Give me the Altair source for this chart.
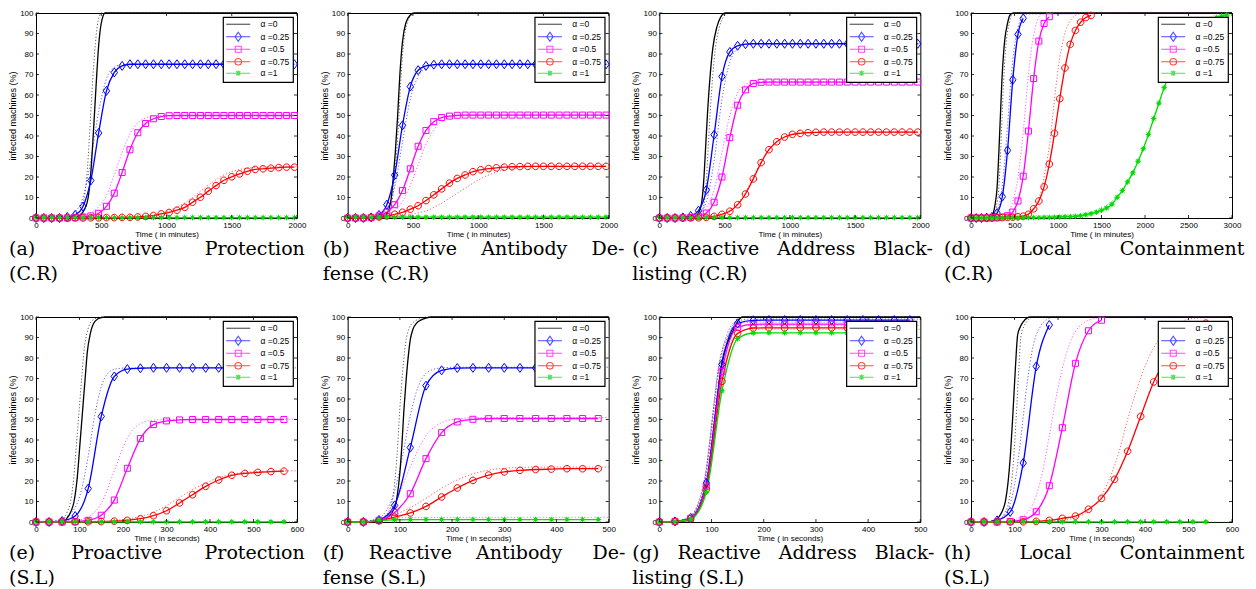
import altair as alt
import pandas as pd

# ---------------- legend / series definitions ----------------
LABELS = ["α =0", "α =0.25", "α =0.5", "α =0.75", "α =1"]
COLORS = ["#000000", "#0000ff", "#ff00ff", "#ff0000", "#00dd00"]

DIAMOND = "M0,-4.5L3.2,0L0,4.5L-3.2,0Z"
SQUARE = "M-3,-3L3,-3L3,3L-3,3Z"
CIRCLE = "M-3.3,0A3.3,3.3 0 1 0 3.3,0A3.3,3.3 0 1 0 -3.3,0Z"
STAR = "M-2.8,0L2.8,0M0,-2.8L0,2.8M-2,-2L2,2M-2,2L2,-2M-1.4,0A1.4,1.4 0 1 0 1.4,0A1.4,1.4 0 1 0 -1.4,0Z"
MARKERS = [DIAMOND, SQUARE, CIRCLE, STAR]
LEG_LINE = "M-12,0L12,0"
LEG_PATHS = [LEG_LINE, LEG_LINE + DIAMOND, LEG_LINE + SQUARE, LEG_LINE + CIRCLE, LEG_LINE + STAR]

Y_TICKS = [0, 10, 20, 30, 40, 50, 60, 70, 80, 90, 100]
X_CR = [0, 500, 1000, 1500, 2000]
X_CR3 = [0, 500, 1000, 1500, 2000, 2500, 3000]
X_SL6 = [0, 100, 200, 300, 400, 500, 600]
X_SL5 = [0, 100, 200, 300, 400, 500]

# sampling grids of the simulation markers
CR_T = list(range(0, 2000, 60))
CR3_T = list(range(0, 3000, 60))
SL6_T = list(range(0, 600, 30))
SL5_T = list(range(0, 500, 30))
SLH_T = list(range(0, 570, 30))

# ---------------- (a) Proactive Protection (C.R) ----------------
A_K_T = [0, 240, 300, 340, 370, 400, 420, 440, 460, 480, 500, 530, 2000]
A_K = [0, 0, 0.3, 1.5, 4, 10, 22, 42, 64, 84, 95, 100, 100]
A_B = [0, 0, 0, 0, 0.5, 1.5, 5.6, 18.3, 41.5, 62.0,
       71.0, 74.2, 75, 75, 75, 75, 75, 75, 75, 75,
       75, 75, 75, 75, 75, 75, 75, 75, 75, 75,
       75, 75, 75, 75]
A_M = [0, 0, 0, 0, 0, 0.2, 0.5, 1.0, 2.3, 5.7,
       12.1, 22.2, 33.3, 41.6, 46.1, 48.4, 49.5, 49.9, 50, 50,
       50, 50, 50, 50, 50, 50, 50, 50, 50, 50,
       50, 50, 50, 50]
A_R = [0, 0, 0, 0, 0, 0, 0, 0.1, 0.1, 0.2,
       0.2, 0.3, 0.3, 0.5, 0.8, 1.2, 2.0, 2.7, 3.8, 5.2,
       7.7, 10.1, 13.1, 15.8, 18.4, 20.1, 21.5, 22.8, 23.7, 24.0,
       24.3, 24.6, 24.8, 24.8]
A_G = [0.2, 0.2, 0.2, 0.2, 0.2, 0.2, 0.2, 0.2, 0.2, 0.2,
       0.2, 0.2, 0.2, 0.2, 0.2, 0.2, 0.2, 0.2, 0.2, 0.2,
       0.2, 0.2, 0.2, 0.2, 0.2, 0.2, 0.2, 0.2, 0.2, 0.2,
       0.2, 0.2, 0.2, 0.2]
A_DK_T = [0, 220, 280, 320, 350, 375, 395, 415, 435, 455, 475, 500, 2000]
A_DK = [0, 0, 0.5, 2, 5, 12, 25, 46, 68, 85, 96, 100, 100]
A_DB_T = [0, 180, 240, 300, 360, 420, 480, 540, 600, 660, 720, 2000]
A_DB = [0, 0.2, 0.8, 3, 10, 28, 52, 68, 73.5, 74.8, 75, 75]
A_DM_T = [0, 300, 360, 420, 480, 540, 600, 660, 720, 780, 840, 900, 960, 2000]
A_DM = [0, 0.5, 1.2, 2.5, 5.5, 11, 21, 32, 41, 46.5, 48.8, 49.7, 50, 50]
A_DR_T = [0, 720, 780, 840, 900, 960, 1020, 1080, 1140, 1200, 1260, 1320, 1380, 1440, 1500, 1560, 1620, 1680, 1740, 2000]
A_DR = [0, 0.3, 0.5, 0.9, 1.5, 2.4, 3.6, 5.2, 7.3, 10.0, 13.0, 16.0, 18.7, 21.0, 22.6, 23.7, 24.3, 24.7, 24.9, 25]
A_DG_T = [0, 2000]
A_DG = [0.2, 0.2]

# ---------------- (b) Reactive Antibody Defense (C.R) ----------------
B_K_T = [0, 240, 280, 300, 330, 350, 365, 383, 400, 420, 445, 480, 510, 2000]
B_K = [0, 0, 0.5, 2, 8, 20, 32, 50, 70, 86, 95, 99, 100, 100]
B_B = [0, 0, 0, 0.3, 1.5, 6.5, 20.9, 45.2, 64.1, 72.1,
       74.2, 74.8, 75, 75, 75, 75, 75, 75, 75, 75,
       75, 75, 75, 75, 75, 75, 75, 75, 75, 75,
       75, 75, 75, 75]
B_M = [0, 0, 0, 0.2, 1.0, 2.8, 6.5, 13.4, 24.0, 35.0,
       42.7, 47.0, 49.0, 49.7, 50.1, 50.2, 50.2, 50.2, 50.2, 50.2,
       50.2, 50.2, 50.2, 50.2, 50.2, 50.2, 50.2, 50.2, 50.2, 50.2,
       50.2, 50.2, 50.2, 50.2]
B_R = [0, 0, 0, 0.2, 0.5, 1.0, 1.8, 2.8, 4.3, 6.0,
       8.5, 11.3, 14.2, 17.0, 19.3, 21.0, 22.6, 23.5, 24.1, 24.5,
       24.8, 25.0, 25.1, 25.2, 25.2, 25.2, 25.2, 25.2, 25.2, 25.2,
       25.2, 25.2, 25.2, 25.2]
B_G = [0.4, 0.4, 0.4, 0.4, 0.4, 0.4, 0.4, 0.4, 0.4, 0.4,
       0.4, 0.4, 0.4, 0.4, 0.4, 0.4, 0.4, 0.4, 0.4, 0.4,
       0.4, 0.4, 0.4, 0.4, 0.4, 0.4, 0.4, 0.4, 0.4, 0.4,
       0.4, 0.4, 0.4, 0.4]
B_DK_T = [0, 250, 290, 310, 340, 360, 375, 393, 410, 430, 455, 490, 520, 2000]
B_DK = [0, 0, 0.5, 2, 8, 20, 32, 50, 70, 86, 95, 99, 100, 100]
B_DB_T = [0, 180, 240, 300, 360, 420, 480, 540, 600, 660, 720, 780, 2000]
B_DB = [0, 0.2, 1.0, 4.5, 15, 37, 58, 69, 73, 74.5, 75, 75, 75]
B_DM_T = [0, 240, 300, 360, 420, 480, 540, 600, 660, 720, 780, 840, 900, 960, 2000]
B_DM = [0, 0.5, 1.5, 3.5, 8, 16, 26, 36, 43, 47, 49, 49.8, 50.1, 50.2, 50.2]
B_DR_T = [0, 300, 400, 500, 600, 700, 800, 900, 1000, 1100, 1200, 1300, 1400, 1500, 2000]
B_DR = [0, 0.3, 1.0, 2.0, 3.5, 6.5, 10.5, 14.5, 18.5, 21.5, 23.5, 24.6, 25.0, 25.2, 25.2]
B_DG_T = [0, 2000]
B_DG = [0.5, 0.5]

# ---------------- (c) Reactive Address Blacklisting (C.R) ----------------
C_K_T = [0, 250, 290, 320, 340, 355, 370, 390, 410, 440, 470, 506, 2000]
C_K = [0, 0, 1.5, 6, 18, 35, 52, 70, 83, 93, 98, 100, 100]
C_B = [0, 0, 0, 0.3, 1.0, 3.6, 13.7, 40.6, 69.0, 81.0,
       84.0, 84.8, 85, 85, 85, 85, 85, 85, 85, 85,
       85, 85, 85, 85, 85, 85, 85, 85, 85, 85,
       85, 85, 85, 85]
C_M = [0, 0, 0, 0.1, 0.3, 0.8, 2.4, 7.7, 20.0, 39.2,
       55.0, 62.5, 65.6, 66.2, 66.3, 66.3, 66.3, 66.3, 66.3, 66.3,
       66.3, 66.3, 66.3, 66.3, 66.3, 66.3, 66.3, 66.3, 66.3, 66.3,
       66.3, 66.3, 66.3, 66.3]
C_R = [0, 0, 0, 0, 0, 0.1, 0.3, 0.8, 1.8, 3.3,
       6.5, 11.7, 19.1, 27.0, 33.3, 37.2, 39.5, 40.8, 41.3, 41.6,
       41.8, 41.9, 41.9, 41.9, 41.9, 41.9, 41.9, 41.9, 41.9, 41.9,
       41.9, 41.9, 41.9, 41.9]
C_G = [0.2, 0.2, 0.2, 0.2, 0.2, 0.2, 0.2, 0.2, 0.2, 0.2,
       0.2, 0.2, 0.2, 0.2, 0.2, 0.2, 0.2, 0.2, 0.2, 0.2,
       0.2, 0.2, 0.2, 0.2, 0.2, 0.2, 0.2, 0.2, 0.2, 0.2,
       0.2, 0.2, 0.2, 0.2]
C_DK_T = [0, 270, 310, 340, 360, 375, 390, 410, 430, 460, 490, 526, 2000]
C_DK = [0, 0, 1.5, 6, 18, 35, 52, 70, 83, 93, 98, 100, 100]
C_DB_T = [0, 240, 300, 360, 420, 480, 540, 600, 660, 720, 2000]
C_DB = [0, 0.5, 2, 8, 28, 58, 76, 82.5, 84.5, 85, 85]
C_DM_T = [0, 300, 360, 420, 480, 540, 600, 660, 720, 780, 2000]
C_DM = [0, 1.5, 5, 14, 32, 50, 61, 65, 66.2, 66.5, 66.5]
C_DR_T = [0, 480, 540, 600, 660, 720, 780, 840, 900, 960, 1020, 1100, 1200, 2000]
C_DR = [0, 2, 3.8, 7.2, 12.5, 20, 27.5, 33.5, 37.3, 39.6, 40.9, 41.5, 41.8, 41.9]
C_DG_T = [0, 2000]
C_DG = [0.2, 0.2]

# ---------------- (d) Local Containment (C.R) ----------------
D_K_T = [0, 200, 240, 273, 300, 320, 338, 355, 372, 388, 420, 446, 484, 3000]
D_K = [0, 0, 1, 5.7, 15, 32, 50, 67, 79, 87, 95, 98.9, 100, 100]
D_B = [0, 0, 0, 0.2, 0.5, 2.4, 10.4, 33.0, 67.4, 89.6, 97.4]
D_M = [0, 0, 0, 0, 0.1, 0.2, 0.5, 1.1, 2.9, 8.3, 20.4, 42.4, 68.0, 86.3, 94.9, 98.2]
D_R = [0, 0, 0, 0, 0, 0.1, 0.2, 0.3, 0.4, 0.6, 0.9, 1.8, 4.5, 8.3, 15.2, 26.3,
       41.3, 58.2, 73.2, 84.7, 91.5, 95.5, 97.8, 98.8]
D_G = [0, 0, 0, 0, 0, 0, 0.1, 0.1, 0.1, 0.1,
       0.1, 0.2, 0.2, 0.2, 0.3, 0.3, 0.4, 0.5, 0.6, 0.7,
       0.8, 1.1, 1.6, 2.1, 2.8, 3.8, 4.9, 6.7, 10.1, 13.4,
       17.6, 22.0, 27.7, 33.8, 40.8, 48.5, 56.0, 63.6, 69.8, 75.5,
       80.5, 85.0, 88.5, 91.5, 93.7, 95.5, 96.8, 97.8, 98.5, 99.0]
D_DK_T = [0, 220, 260, 293, 320, 340, 358, 375, 392, 408, 440, 466, 504, 3000]
D_DK = [0, 0, 1, 5.7, 15, 32, 50, 67, 79, 87, 95, 98.9, 100, 100]
D_DB_T = [0, 220, 280, 340, 380, 420, 460, 500, 540, 580, 620, 3000]
D_DB = [0, 0.3, 2, 10, 24, 45, 68, 84, 93, 97.5, 99.5, 100]
D_DM_T = [0, 360, 420, 480, 540, 570, 600, 630, 660, 690, 720, 760, 810, 3000]
D_DM = [0, 0.5, 2.5, 8, 20, 30, 42, 56, 70, 81, 89, 96, 99.5, 100]
D_DR_T = [0, 620, 680, 740, 800, 860, 900, 930, 960, 990, 1020, 1050, 1090, 1130, 1190, 1270, 3000]
D_DR = [0, 1, 2.5, 5.5, 12, 25, 35, 46, 58, 69, 78, 85, 91.5, 95.5, 98.5, 99.8, 100]
D_DG_T = [0, 900, 1200, 1400, 1600, 1700, 1800, 1900, 2000, 2100, 2200, 2300, 2400, 2500, 2600, 2700, 2800, 2900, 3000]
D_DG = [0.3, 0.5, 1.3, 3.2, 7.5, 11.5, 18, 26, 36, 49, 61, 71, 80, 87, 92, 95.5, 97.8, 99, 99.5]

# ---------------- (e) Proactive Protection (S.L) ----------------
E_K_T = [0, 60, 70, 80, 87.5, 95, 101, 107, 113, 118, 125, 136, 150, 159, 600]
E_K = [0, 0, 1.5, 5, 10, 22, 38, 54, 70, 83, 92, 98, 99.7, 100, 100]
E_B = [0, 0, 0.5, 2.9, 16.3, 51.5, 71.0, 74.6, 75.0, 75.2,
       75.2, 75.2, 75.2, 75.2, 75.2, 75.2, 75.2, 75.2, 75.2, 75.2]
E_M = [0, 0, 0, 0.2, 0.8, 3.3, 10.7, 26.2, 40.7, 47.5,
       49.3, 49.8, 50, 50, 50, 50, 50, 50, 50, 50]
E_R = [0, 0, 0, 0, 0.1, 0.2, 0.4, 0.8, 1.6, 3.1,
       5.5, 9.3, 13.3, 17.4, 20.5, 22.8, 23.7, 24.2, 24.6, 24.8]
E_G = [0.1, 0.1, 0.1, 0.1, 0.1, 0.1, 0.1, 0.1, 0.1, 0.1,
       0.1, 0.1, 0.1, 0.1, 0.1, 0.1, 0.1, 0.1, 0.1, 0.1]
E_DK_T = [0, 52, 62, 72, 79.5, 87, 93, 99, 105, 110, 117, 128, 142, 151, 600]
E_DK = [0, 0, 1.5, 5, 10, 22, 38, 54, 70, 83, 92, 98, 99.7, 100, 100]
E_DB_T = [0, 30, 60, 90, 105, 120, 135, 150, 165, 180, 195, 210, 240, 600]
E_DB = [0, 0.2, 1.5, 7, 16, 32, 52, 66, 72.5, 74.5, 75, 75.2, 75.2, 75.2]
E_DM_T = [0, 90, 120, 150, 180, 210, 240, 270, 300, 330, 600]
E_DM = [0.3, 0.8, 2.5, 9, 25, 41, 48, 49.7, 50, 50.1, 50.1]
E_DR_T = [0, 150, 180, 210, 240, 270, 300, 330, 360, 390, 420, 450, 480, 510, 540, 600]
E_DR = [0, 0.3, 0.7, 1.4, 2.7, 4.8, 8, 12, 15.8, 19, 21.6, 23.3, 24.2, 24.6, 24.8, 25]
E_DG_T = [0, 600]
E_DG = [0.1, 0.1]

# ---------------- (f) Reactive Antibody Defense (S.L) ----------------
F_K_T = [0, 60, 75, 90, 95, 100, 104, 107.6, 111, 115, 120, 125, 132, 140, 150, 160, 500]
F_K = [0, 0.3, 2, 7, 13, 24, 38, 54, 66, 78, 89, 94, 97, 98.5, 99.5, 100, 100]
F_B = [0, 0, 1.0, 8.1, 36.3, 66.5, 74.0, 75.1, 75.2, 75.2,
       75.2, 75.2, 75.2, 75.2, 75.2, 75.2, 75.2]
F_M = [0, 0, 0.8, 4.6, 13.8, 30.9, 43.6, 48.8, 50.1, 50.4,
       50.5, 50.5, 50.5, 50.5, 50.5, 50.5, 50.5]
F_R = [0, 0, 0.6, 2.4, 4.4, 7.6, 12.2, 16.6, 20.3, 22.9,
       24.4, 25.2, 25.6, 25.8, 26.0, 26.0, 26.0]
F_G = [0, 0, 0.8, 1.1, 1.2, 1.2, 1.2, 1.2, 1.2, 1.2,
       1.2, 1.2, 1.2, 1.2, 1.2, 1.2, 1.2]
F_DK_T = [0, 52, 67, 82, 87, 92, 96, 99.6, 103, 107, 112, 117, 124, 132, 142, 152, 500]
F_DK = [0, 0.3, 2, 7, 13, 24, 38, 54, 66, 78, 89, 94, 97, 98.5, 99.5, 100, 100]
F_DB_T = [0, 30, 60, 75, 90, 105, 120, 135, 150, 165, 180, 210, 500]
F_DB = [0, 0.3, 2, 6, 15, 32, 52, 66, 72.5, 74.5, 75.2, 75.5, 75.5]
F_DM_T = [0, 60, 90, 120, 150, 180, 210, 240, 270, 500]
F_DM = [0, 1.5, 9, 27, 42, 48.5, 50.3, 50.8, 51, 51]
F_DR_T = [0, 60, 90, 120, 150, 180, 210, 240, 270, 300, 330, 360, 500]
F_DR = [0, 1, 3.5, 7, 11.5, 16.5, 20.5, 23.5, 25.3, 26.2, 26.6, 26.8, 26.8]
F_DG_T = [0, 60, 90, 120, 500]
F_DG = [0, 1, 1.8, 2.2, 2.3]

# ---------------- (g) Reactive Address Blacklisting (S.L) ----------------
G_K_T = [0, 50, 60, 75, 90, 100, 110, 120, 130, 141, 150, 160, 500]
G_K = [0, 0.5, 1.5, 6, 17, 36, 58, 78, 87, 93, 97.9, 100, 100]
G_B = [0, 0.3, 2.0, 19.0, 76.9, 96.9, 98.4, 98.5, 98.5, 98.5,
       98.5, 98.5, 98.5, 98.5, 98.5, 98.5, 98.5]
G_M = [0, 0.3, 1.8, 17.5, 73.5, 95.0, 96.4, 96.5, 96.5, 96.5,
       96.5, 96.5, 96.5, 96.5, 96.5, 96.5, 96.5]
G_R = [0, 0.3, 1.6, 15.9, 68.6, 92.0, 94.6, 94.7, 94.7, 94.7,
       94.7, 94.7, 94.7, 94.7, 94.7, 94.7, 94.7]
G_G = [0, 0.2, 1.4, 14.5, 64.0, 89.4, 92.2, 92.3, 92.3, 92.3,
       92.3, 92.3, 92.3, 92.3, 92.3, 92.3, 92.3]
G_DK_T = [0, 45, 55, 70, 85, 95, 105, 115, 125, 136, 145, 155, 500]
G_DK = [0, 0.5, 1.5, 6, 17, 36, 58, 78, 87, 93, 97.9, 100, 100]
G_D_T = [0, 25, 55, 85, 115, 145, 175, 500]
G_DB = [0, 0.3, 2.0, 19.0, 77.0, 97.5, 99.0, 99.0]
G_DM = [0, 0.3, 1.8, 17.5, 74.0, 96.0, 97.5, 97.5]
G_DR = [0, 0.3, 1.6, 16.0, 69.5, 93.5, 96.0, 96.0]
G_DG = [0, 0.2, 1.4, 14.8, 65.0, 91.0, 94.0, 94.0]

# ---------------- (h) Local Containment (S.L) ----------------
H_K_T = [0, 40, 50, 60, 70, 79, 85, 91, 96.6, 102, 107.3, 114, 121, 136, 600]
H_K = [0, 0, 0.5, 1.5, 4.5, 10.1, 19, 34, 54, 75, 91.4, 95.5, 97.9, 100, 100]
H_B = [0, 0, 0.8, 4.9, 28.8, 75.9, 96.1]
H_M = [0, 0, 0, 0.3, 1.1, 5.0, 17.7, 46.0, 77.4, 93.3, 98.4]
H_R = [0, 0, 0, 0, 0.1, 0.3, 0.8, 1.8, 2.9, 6.2,
       11.5, 20.8, 34.5, 51.5, 68.3, 80.0, 89.0, 94.0, 97.0]
H_G = [0.1, 0.1, 0.1, 0.1, 0.1, 0.1, 0.1, 0.1, 0.1, 0.1,
       0.1, 0.1, 0.1, 0.1, 0.1, 0.1, 0.1, 0.1, 0.1]
H_DK_T = [0, 48, 58, 68, 78, 87, 93, 99, 104.6, 110, 115.3, 122, 129, 144, 600]
H_DK = [0, 0, 0.5, 1.5, 4.5, 10.1, 19, 34, 54, 75, 91.4, 95.5, 97.9, 100, 100]
H_DB_T = [0, 50, 70, 85, 100, 114, 128, 144, 160, 175, 190, 600]
H_DB = [0, 0.3, 2, 6, 18, 40, 66, 87, 95.5, 98.8, 99.8, 100]
H_DM_T = [0, 75, 105, 135, 150, 165, 180, 195, 210, 225, 240, 255, 285, 315, 600]
H_DM = [0, 0.3, 1.5, 6, 13, 25, 42, 60, 75, 86, 93, 96.5, 99.3, 100, 100]
H_DR_T = [0, 200, 230, 260, 280, 300, 320, 340, 360, 380, 400, 420, 450, 480, 520, 600]
H_DR = [0, 0.5, 1.5, 4, 7.5, 13, 22, 34, 50, 64, 76, 85, 93.5, 97.5, 99.5, 100]
H_DG_T = [0, 600]
H_DG = [0, 0]

NB = "\u00a0"
CAPTIONS = [
    ["(a)" + NB * 6 + "Proactive" + NB * 7 + "Protection", "(C.R)"],
    ["(b)" + NB * 4 + "Reactive" + NB * 4 + "Antibody" + NB * 4 + "De-", "fense (C.R)"],
    ["(c)" + NB * 3 + "Reactive" + NB * 3 + "Address" + NB * 3 + "Black-", "listing (C.R)"],
    ["(d)" + NB * 8 + "Local" + NB * 8 + "Containment", "(C.R)"],
    ["(e)" + NB * 6 + "Proactive" + NB * 7 + "Protection", "(S.L)"],
    ["(f)" + NB * 4 + "Reactive" + NB * 4 + "Antibody" + NB * 5 + "De-", "fense (S.L)"],
    ["(g)" + NB * 3 + "Reactive" + NB * 3 + "Address" + NB * 3 + "Black-", "listing (S.L)"],
    ["(h)" + NB * 8 + "Local" + NB * 8 + "Containment", "(S.L)"],
]
CAP_DX = [-27, -25, -27, -27, -27, -25, -27, -27]
MIN_T = "Time ( in minutes)"
SEC_T = "Time ( in seconds)"

PANELS = [
    dict(xmax=2000, xt=X_CR, xtitle=MIN_T, grid=CR_T, black=(A_K_T, A_K), solid=[A_B, A_M, A_R, A_G],
         dotted=[(A_DK_T, A_DK), (A_DB_T, A_DB), (A_DM_T, A_DM), (A_DR_T, A_DR), (A_DG_T, A_DG)]),
    dict(xmax=2000, xt=X_CR, xtitle=MIN_T, grid=CR_T, black=(B_K_T, B_K), solid=[B_B, B_M, B_R, B_G],
         dotted=[(B_DK_T, B_DK), (B_DB_T, B_DB), (B_DM_T, B_DM), (B_DR_T, B_DR), (B_DG_T, B_DG)]),
    dict(xmax=2000, xt=X_CR, xtitle=MIN_T, grid=CR_T, black=(C_K_T, C_K), solid=[C_B, C_M, C_R, C_G],
         dotted=[(C_DK_T, C_DK), (C_DB_T, C_DB), (C_DM_T, C_DM), (C_DR_T, C_DR), (C_DG_T, C_DG)]),
    dict(xmax=3000, xt=X_CR3, xtitle=MIN_T, grid=CR3_T, black=(D_K_T, D_K), solid=[D_B, D_M, D_R, D_G],
         dotted=[(D_DK_T, D_DK), (D_DB_T, D_DB), (D_DM_T, D_DM), (D_DR_T, D_DR), (D_DG_T, D_DG)]),
    dict(xmax=600, xt=X_SL6, xtitle=SEC_T, grid=SL6_T, black=(E_K_T, E_K), solid=[E_B, E_M, E_R, E_G],
         dotted=[(E_DK_T, E_DK), (E_DB_T, E_DB), (E_DM_T, E_DM), (E_DR_T, E_DR), (E_DG_T, E_DG)]),
    dict(xmax=500, xt=X_SL5, xtitle=SEC_T, grid=SL5_T, black=(F_K_T, F_K), solid=[F_B, F_M, F_R, F_G],
         dotted=[(F_DK_T, F_DK), (F_DB_T, F_DB), (F_DM_T, F_DM), (F_DR_T, F_DR), (F_DG_T, F_DG)]),
    dict(xmax=500, xt=X_SL5, xtitle=SEC_T, grid=SL5_T, black=(G_K_T, G_K), solid=[G_B, G_M, G_R, G_G],
         dotted=[(G_DK_T, G_DK), (G_D_T, G_DB), (G_D_T, G_DM), (G_D_T, G_DR), (G_D_T, G_DG)]),
    dict(xmax=600, xt=X_SL6, xtitle=SEC_T, grid=SLH_T, black=(H_K_T, H_K), solid=[H_B, H_M, H_R, H_G],
         dotted=[(H_DK_T, H_DK), (H_DB_T, H_DB), (H_DM_T, H_DM), (H_DR_T, H_DR), (H_DG_T, H_DG)]),
]

PW, PH = 261, 205
SANS = "Liberation Sans"


def make_panel(p, caption, dx):
    xs = alt.Scale(domain=[0, p["xmax"]], nice=False, zero=False)
    ys = alt.Scale(domain=[0, 100], nice=False, zero=False)
    xax = alt.Axis(values=p["xt"], title=p["xtitle"], ticks=False, domain=False, grid=False,
                   labelFont=SANS, labelFontSize=8, labelColor="black", labelPadding=3,
                   labelFlush=False, labelOverlap=False, format="d",
                   titleFont=SANS, titleFontSize=8, titleFontWeight="normal", titleColor="black",
                   titlePadding=1)
    yax = alt.Axis(values=Y_TICKS, title="infected machines (%)", ticks=False, domain=False, grid=False,
                   labelFont=SANS, labelFontSize=8, labelColor="black", labelPadding=3,
                   labelFlush=False, labelOverlap=False, format="d",
                   titleFont=SANS, titleFontSize=9, titleFontWeight="normal", titleColor="black",
                   titlePadding=2)

    def X(f):
        return alt.X(f"{f}:Q", scale=xs, axis=xax)

    def Y(f):
        return alt.Y(f"{f}:Q", scale=ys, axis=yax)

    cscale = alt.Scale(domain=LABELS, range=COLORS)

    # legend (driven by scales only) -- first layer so its legend settings win the merge
    leg = alt.Legend(title=None, orient="top-right", offset=4, padding=3, strokeColor="black",
                     fillColor="white", cornerRadius=0, labelFont=SANS,
                     labelFontSize=8.5, labelColor="black", symbolSize=4, symbolStrokeWidth=1.1,
                     symbolOffset=8, labelOffset=18, rowPadding=0.5, symbolFillColor="transparent")
    legend_layer = alt.Chart(pd.DataFrame({"s": LABELS})).transform_filter("false").mark_point(
        filled=False, size=4, strokeWidth=1
    ).encode(
        color=alt.Color("s:N", scale=cscale, legend=leg),
        shape=alt.Shape("s:N", scale=alt.Scale(domain=LABELS, range=LEG_PATHS), legend=leg),
    )
    layers = [legend_layer]

    # analytical (dotted) curves
    rows = []
    for lab, (ts, vs) in zip(LABELS, p["dotted"]):
        rows += [{"s": lab, "t": t, "v": v} for t, v in zip(ts, vs)]
    layers.append(alt.Chart(pd.DataFrame(rows)).mark_line(
        strokeWidth=0.9, strokeDash=[1.2, 2], opacity=0.7, interpolate="monotone"
    ).encode(x=X("t"), y=Y("v"), color=alt.Color("s:N", scale=cscale, legend=None)))

    # simulated (solid) curves
    series = [pd.DataFrame({"s": LABELS[0], "t": p["black"][0], "v": p["black"][1]})]
    for lab, vs in zip(LABELS[1:], p["solid"]):
        ts = p["grid"][:len(vs)]
        series.append(pd.DataFrame({"s": lab, "t": ts, "v": vs}))
    layers.append(alt.Chart(pd.concat(series, ignore_index=True)).mark_line(
        strokeWidth=1.3, interpolate="monotone"
    ).encode(x=X("t"), y=Y("v"), color=alt.Color("s:N", scale=cscale, legend=None)))

    for df, col, shp in zip(series[1:], COLORS[1:], MARKERS):
        layers.append(alt.Chart(df).mark_point(
            shape=shp, size=4, filled=False, color=col, strokeWidth=1.0, opacity=1
        ).encode(x=X("t"), y=Y("v")))

    # inward MATLAB-style ticks on all four sides
    ytk = alt.Chart(pd.DataFrame({"v": Y_TICKS}))
    xtk = alt.Chart(pd.DataFrame({"t": p["xt"]}))
    tick_style = dict(color="black", strokeWidth=0.8)
    layers += [
        ytk.mark_rule(**tick_style).encode(y=Y("v"), x=alt.value(0), x2=alt.value(3)),
        ytk.mark_rule(**tick_style).encode(y=Y("v"), x=alt.value(PW - 3), x2=alt.value(PW)),
        xtk.mark_rule(**tick_style).encode(x=X("t"), y=alt.value(PH - 3), y2=alt.value(PH)),
        xtk.mark_rule(**tick_style).encode(x=X("t"), y=alt.value(0), y2=alt.value(3)),
    ]

    title = alt.TitleParams(text=caption, orient="bottom", anchor="start", frame="group", dx=dx,
                            offset=2, font="DejaVu Serif", fontSize=19, fontWeight="normal",
                            color="black", lineHeight=25)
    return alt.layer(*layers).properties(width=PW, height=PH, title=title)


panels = [make_panel(p, c, d) for p, c, d in zip(PANELS, CAPTIONS, CAP_DX)]

chart = alt.concat(
    *panels, columns=4, spacing={"row": 99, "column": 50.67}, bounds="flush"
).resolve_scale(
    color="independent", shape="independent"
).resolve_legend(
    color="independent", shape="independent"
).properties(
    padding={"left": 0, "top": 0, "right": 0, "bottom": 0}
).configure_view(
    stroke="black", strokeWidth=1
).configure_legend(
    strokeWidth=1.2
)

chart.save("out.html", embed_options={"renderer": "svg", "actions": False})
